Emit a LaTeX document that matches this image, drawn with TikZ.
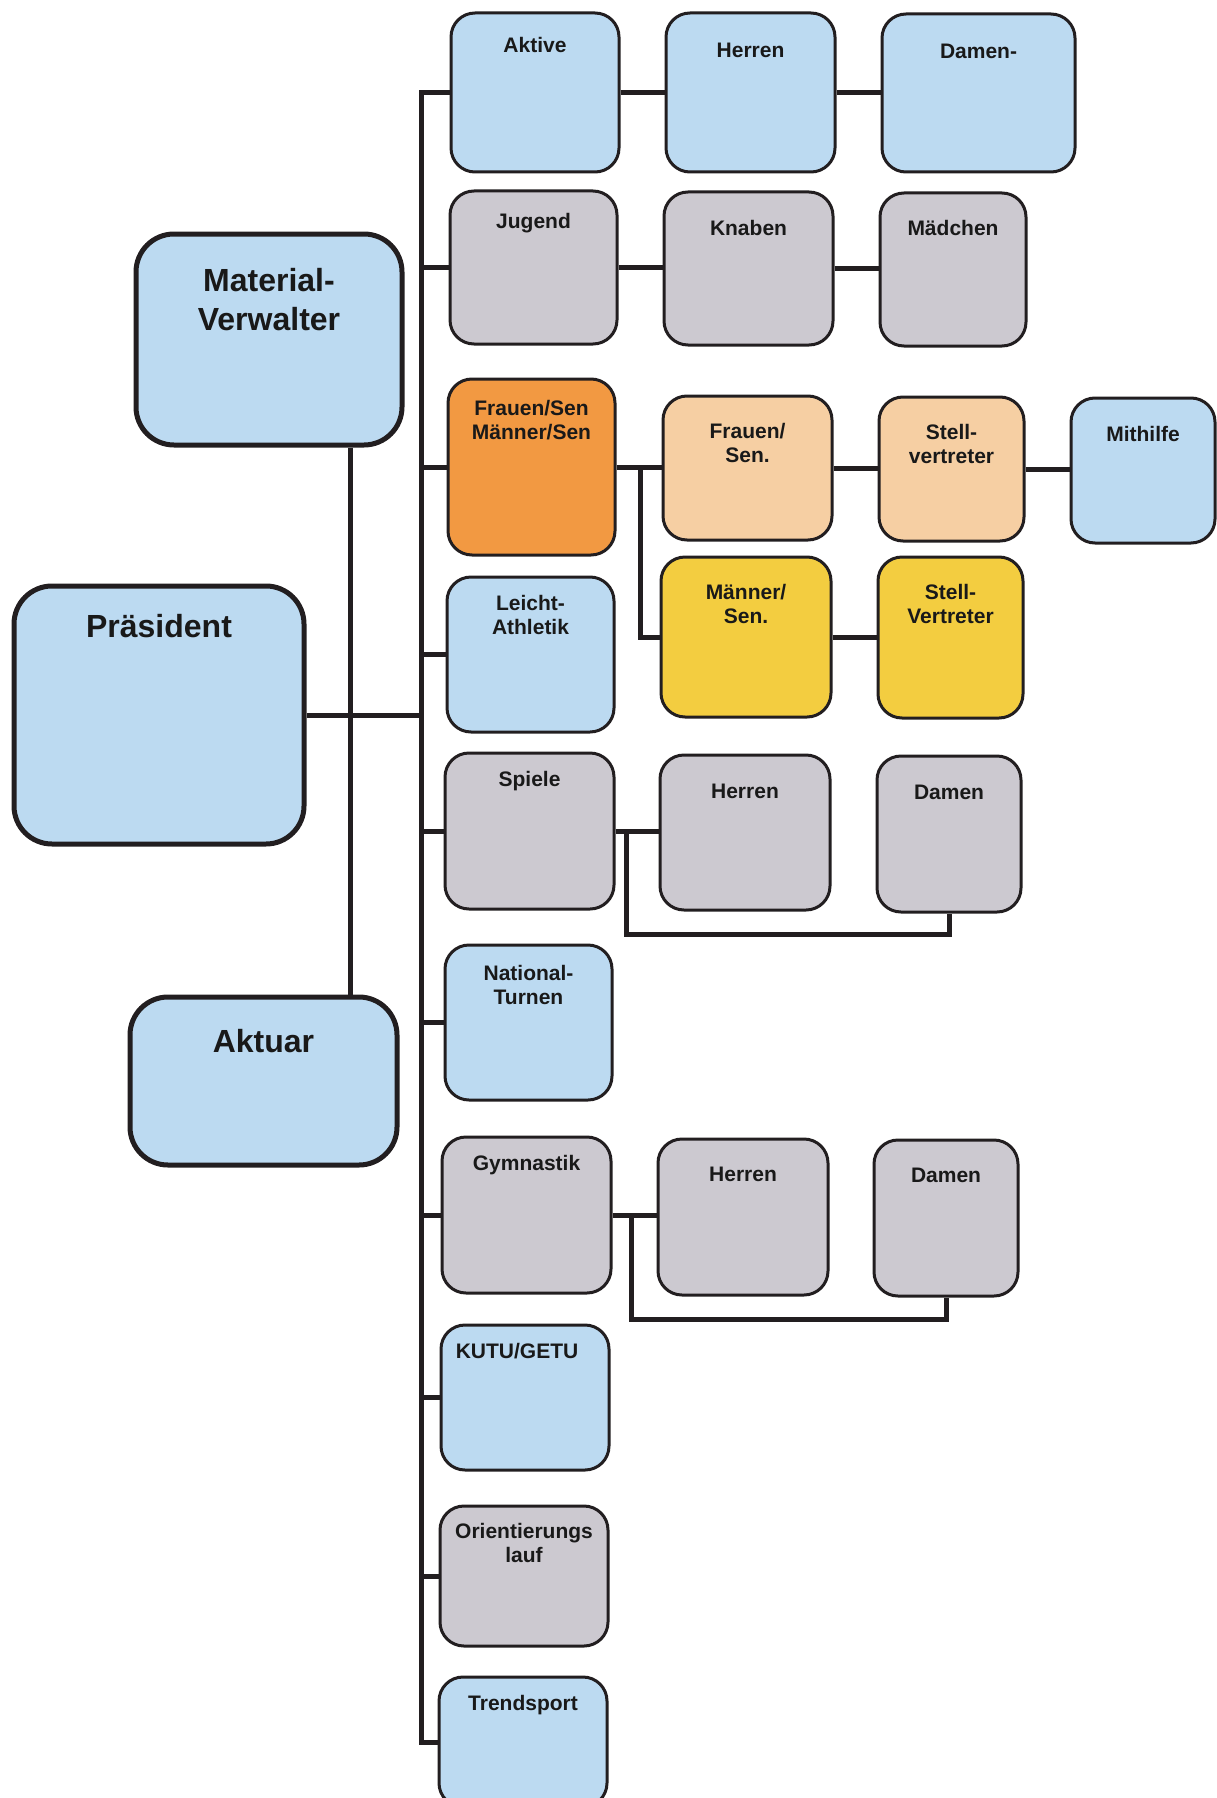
\documentclass[tikz,border=0pt]{standalone}
\usepackage{fontspec}
\setmainfont{Liberation Sans}
\usepackage{tikz}
\definecolor{lblue}{RGB}{188,218,241}
\definecolor{lgrey}{RGB}{204,201,208}
\definecolor{dorange}{RGB}{242,153,66}
\definecolor{peach}{RGB}{246,207,163}
\definecolor{dyellow}{RGB}{243,205,64}
\definecolor{linecol}{RGB}{34,30,32}

\begin{document}
\begin{tikzpicture}[x=1pt,y=-1pt]
\tikzstyle{every node}+=[inner sep=0pt]
\tikzstyle{box}=[draw=linecol, line width=3pt, rounded corners=24pt]
\tikzstyle{bigbox}=[draw=linecol, line width=5pt, rounded corners=38pt]
\tikzstyle{lbl}=[anchor=north, align=center, text=black!90, font=\bfseries\fontsize{21}{24}\selectfont]
\tikzstyle{biglbl}=[anchor=north, align=center, text=black!90, font=\bfseries\fontsize{32}{39}\selectfont]
\tikzstyle{con}=[draw=linecol, line width=5pt]
\useasboundingbox (0,0) rectangle (1217,1798);
% left column
\node [bigbox, fill=lblue, minimum width=266pt, minimum height=211pt] (mv) at (269,339.5) {};
\node [biglbl] (mv-t) at ([yshift=-37pt]mv.north) {Material-\\Verwalter};
\node [bigbox, fill=lblue, minimum width=290pt, minimum height=258pt] (praes) at (159,715) {};
\node [biglbl] (praes-t) at ([yshift=-31pt]praes.north) {Präsident};
\node [bigbox, fill=lblue, minimum width=267pt, minimum height=168pt] (aktuar) at (263.5,1081) {};
\node [biglbl] (aktuar-t) at ([yshift=-35pt]aktuar.north) {Aktuar};
% sections
\node [box, fill=lblue, minimum width=168pt, minimum height=159pt] (aktive) at (535,92.5) {};
\node [lbl] (aktive-t) at ([yshift=-26pt]aktive.north) {Aktive};
\node [box, fill=lgrey, minimum width=167pt, minimum height=153pt] (jugend) at (533.5,267.5) {};
\node [lbl] (jugend-t) at ([yshift=-24pt]jugend.north) {Jugend};
\node [box, fill=dorange, minimum width=167pt, minimum height=176pt] (frauen) at (531.5,467) {};
\node [lbl] (frauen-t) at ([yshift=-23pt]frauen.north) {Frauen/Sen\\Männer/Sen};
\node [box, fill=lblue, minimum width=167pt, minimum height=155pt] (leicht) at (530.5,654.5) {};
\node [lbl] (leicht-t) at ([yshift=-20pt]leicht.north) {Leicht-\\Athletik};
\node [box, fill=lgrey, minimum width=169pt, minimum height=156pt] (spiele) at (529.5,831) {};
\node [lbl] (spiele-t) at ([yshift=-20pt]spiele.north) {Spiele};
\node [box, fill=lblue, minimum width=167pt, minimum height=155pt] (national) at (528.5,1022.5) {};
\node [lbl] (national-t) at ([yshift=-22pt]national.north) {National-\\Turnen};
\node [box, fill=lgrey, minimum width=169pt, minimum height=156pt] (gym) at (526.5,1215) {};
\node [lbl] (gym-t) at ([yshift=-20pt]gym.north) {Gymnastik};
\node [box, fill=lblue, minimum width=168pt, minimum height=145pt] (kutu) at (525,1397.5) {};
\node [lbl] (kutu-t) at ([xshift=-8pt,yshift=-20pt]kutu.north) {KUTU/GETU};
\node [box, fill=lgrey, minimum width=168pt, minimum height=140pt] (orient) at (524,1576) {};
\node [lbl] (orient-t) at ([yshift=-19pt]orient.north) {Orientierungs\\lauf};
\node [box, fill=lblue, minimum width=168pt, minimum height=130pt] (trend) at (523,1742) {};
\node [lbl] (trend-t) at ([yshift=-20pt]trend.north) {Trendsport};
% groups
\node [box, fill=lblue, minimum width=169pt, minimum height=159pt] (herrenA) at (750.5,92.5) {};
\node [lbl] (herrenA-t) at ([yshift=-31pt]herrenA.north) {Herren};
\node [box, fill=lblue, minimum width=193pt, minimum height=158pt] (damenA) at (978.5,93) {};
\node [lbl] (damenA-t) at ([yshift=-31pt]damenA.north) {Damen-};
\node [box, fill=lgrey, minimum width=169pt, minimum height=153pt] (knaben) at (748.5,268.5) {};
\node [lbl] (knaben-t) at ([yshift=-30pt]knaben.north) {Knaben};
\node [box, fill=lgrey, minimum width=146pt, minimum height=153pt] (maedchen) at (953,269.5) {};
\node [lbl] (maedchen-t) at ([yshift=-29pt]maedchen.north) {Mädchen};
\node [box, fill=peach, minimum width=169pt, minimum height=144pt] (frauenS) at (747.5,468) {};
\node [lbl] (frauenS-t) at ([yshift=-29pt]frauenS.north) {Frauen/\\Sen.};
\node [box, fill=peach, minimum width=145pt, minimum height=144pt] (stellF) at (951.5,469) {};
\node [lbl] (stellF-t) at ([yshift=-29pt]stellF.north) {Stell-\\vertreter};
\node [box, fill=lblue, minimum width=144pt, minimum height=145pt] (mithilfe) at (1143,470.5) {};
\node [lbl] (mithilfe-t) at ([yshift=-30pt]mithilfe.north) {Mithilfe};
\node [box, fill=dyellow, minimum width=170pt, minimum height=160pt] (maennerS) at (746,637) {};
\node [lbl] (maennerS-t) at ([yshift=-29pt]maennerS.north) {Männer/\\Sen.};
\node [box, fill=dyellow, minimum width=145pt, minimum height=161pt] (stellM) at (950.5,637.5) {};
\node [lbl] (stellM-t) at ([yshift=-29pt]stellM.north) {Stell-\\Vertreter};
\node [box, fill=lgrey, minimum width=170pt, minimum height=155pt] (herrenS) at (745,832.5) {};
\node [lbl] (herrenS-t) at ([yshift=-30pt]herrenS.north) {Herren};
\node [box, fill=lgrey, minimum width=144pt, minimum height=156pt] (damenS) at (949,834) {};
\node [lbl] (damenS-t) at ([yshift=-30pt]damenS.north) {Damen};
\node [box, fill=lgrey, minimum width=170pt, minimum height=156pt] (herrenG) at (743,1217) {};
\node [lbl] (herrenG-t) at ([yshift=-29pt]herrenG.north) {Herren};
\node [box, fill=lgrey, minimum width=144pt, minimum height=156pt] (damenG) at (946,1218) {};
\node [lbl] (damenG-t) at ([yshift=-29pt]damenG.north) {Damen};
% connectors
\coordinate (trunk) at (421,0);
\coordinate (mvx) at (350,0);
\coordinate (fx) at (640,0);
\coordinate (sx) at (626,934);
\coordinate (gx) at (631,1319);
\draw [con] (aktive.west) -| (trend.west -| trunk) -- (trend.west);
\draw [con] (jugend.west -| trunk) -- (jugend.west);
\draw [con] (frauen.west -| trunk) -- (frauen.west);
\draw [con] (leicht.west -| trunk) -- (leicht.west);
\draw [con] (spiele.west -| trunk) -- (spiele.west);
\draw [con] (national.west -| trunk) -- (national.west);
\draw [con] (gym.west -| trunk) -- (gym.west);
\draw [con] (kutu.west -| trunk) -- (kutu.west);
\draw [con] (orient.west -| trunk) -- (orient.west);
\draw [con] (praes.east) -- (praes.east -| trunk);
\draw [con] (mv.south -| mvx) -- (aktuar.north -| mvx);
\draw [con] (aktive.east) -- (aktive.east -| herrenA.west);
\draw [con] (herrenA.east) -- (herrenA.east -| damenA.west);
\draw [con] (jugend.east) -- (jugend.east -| knaben.west);
\draw [con] (knaben.east) -- (knaben.east -| maedchen.west);
\draw [con] (frauen.east) -- (frauen.east -| frauenS.west);
\draw [con] (frauen.east -| fx) |- (maennerS.west);
\draw [con] (frauenS.east) -- (frauenS.east -| stellF.west);
\draw [con] (stellF.east) -- (stellF.east -| mithilfe.west);
\draw [con] (maennerS.east) -- (maennerS.east -| stellM.west);
\draw [con] (spiele.east) -- (spiele.east -| herrenS.west);
\draw [con] (spiele.east -| sx) -- (sx) -| (damenS.south);
\draw [con] (gym.east) -- (gym.east -| herrenG.west);
\draw [con] (gym.east -| gx) -- (gx) -| (damenG.south);
\end{tikzpicture}
\end{document}
